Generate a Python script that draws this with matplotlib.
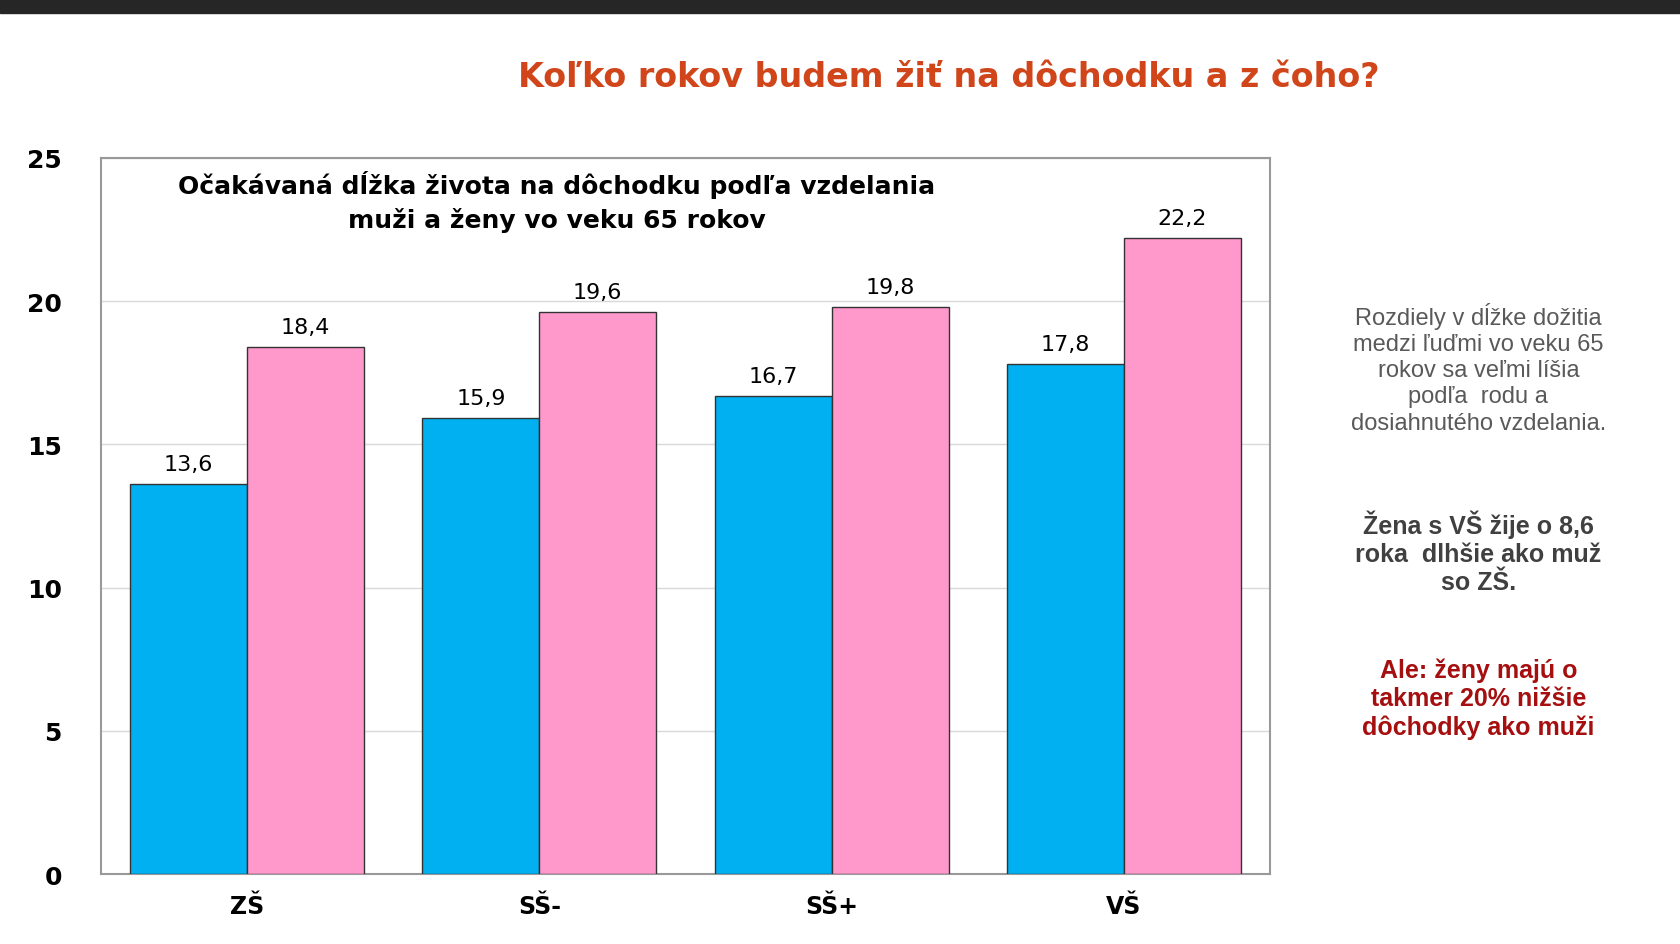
import matplotlib.pyplot as plt
import numpy as np

categories = ['ZŠ', 'SŠ-', 'SŠ+', 'VŠ']
muzi = [13.6, 15.9, 16.7, 17.8]
zeny = [18.4, 19.6, 19.8, 22.2]
yticks = [0, 5, 10, 15, 20, 25]

fig = plt.figure(figsize=(16.8, 9.45), dpi=100)
fig.patch.set_facecolor('white')
# dark strip at the top
fig.add_artist(plt.Rectangle((0, 0.985), 1, 0.015, transform=fig.transFigure, color='#262626'))

ax = fig.add_axes([0.06, 0.074, 0.696, 0.758])
x = np.arange(len(categories))
w = 0.4
b1 = ax.bar(x - w / 2, muzi, w, color='#00b0f0', edgecolor='#333333', linewidth=1, zorder=3)
b2 = ax.bar(x + w / 2, zeny, w, color='#ff99cc', edgecolor='#333333', linewidth=1, zorder=3)
for bars in (b1, b2):
    for r in bars:
        ax.text(r.get_x() + r.get_width() / 2, r.get_height() + 0.35,
                f'{r.get_height():.1f}'.replace('.', ','), ha='center', va='bottom', fontsize=16)

ax.set_xlim(-0.5, 3.5)
ax.set_ylim(0, 25)
ax.set_yticks(yticks)
ax.set_xticks(x)
ax.set_xticklabels(categories, fontsize=17, fontweight='bold')
ax.set_yticklabels(yticks, fontsize=18, fontweight='bold')
ax.tick_params(length=0, pad=14)
ax.tick_params(axis='y', pad=28)
ax.grid(axis='y', color='#d9d9d9', linewidth=1, zorder=0)
for s in ax.spines.values():
    s.set_color('#999999')
    s.set_linewidth(1.5)

ax.text(0.39, 0.94, 'Očakávaná dĺžka života na dôchodku podľa vzdelania\nmuži a ženy vo veku 65 rokov',
        transform=ax.transAxes, ha='center', va='center', fontsize=18, fontweight='bold',
        linespacing=1.45)

fig.text(0.565, 0.918, 'Koľko rokov budem žiť na dôchodku a z čoho?', ha='center', va='center',
         fontsize=24, fontweight='bold', color='#d0461a')

fig.text(0.88, 0.61, 'Rozdiely v dĺžke dožitia\nmedzi ľuďmi vo veku 65\nrokov sa veľmi líšia\npodľa  rodu a\ndosiahnutého vzdelania.',
         ha='center', va='center', fontsize=17, color='#595959', family='Liberation Sans', linespacing=1.25)
fig.text(0.88, 0.415, 'Žena s VŠ žije o 8,6\nroka  dlhšie ako muž\nso ZŠ.',
         ha='center', va='center', fontsize=18, fontweight='bold', color='#404040',
         family='Liberation Sans', linespacing=1.2)
fig.text(0.88, 0.26, 'Ale: ženy majú o\ntakmer 20% nižšie\ndôchodky ako muži',
         ha='center', va='center', fontsize=18, fontweight='bold', color='#a50f0f',
         family='Liberation Sans', linespacing=1.2)

fig.savefig('out.png', dpi=100)
